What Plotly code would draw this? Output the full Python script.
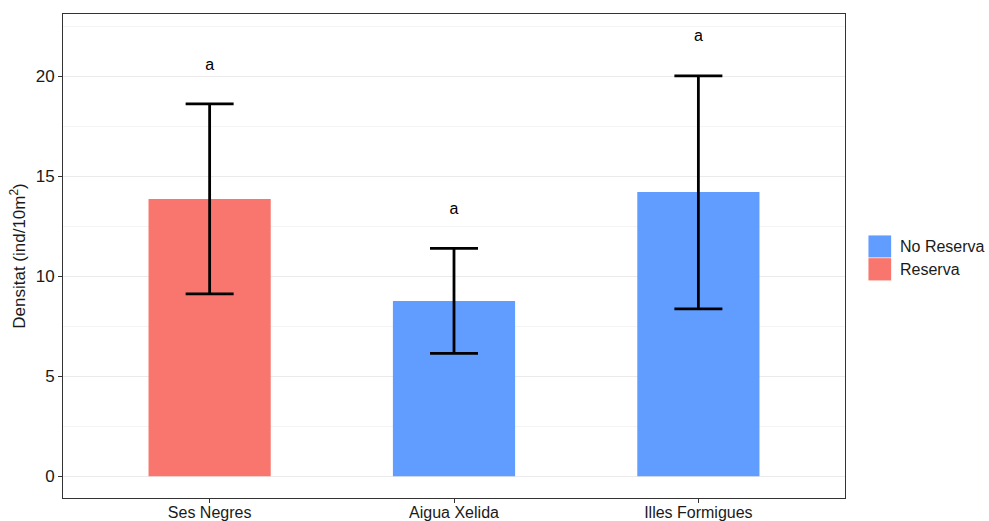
import plotly.graph_objects as go

categories = ["Ses Negres", "Aigua Xelida", "Illes Formigues"]
groups = ["Reserva", "No Reserva", "No Reserva"]
means = [13.87, 8.77, 14.22]
upper = [18.63, 11.40, 20.03]
lower = [9.13, 6.15, 8.38]
letters = ["a", "a", "a"]
letter_y = [20.5, 13.33, 21.97]
legend_order = ["No Reserva", "Reserva"]
colors = {"No Reserva": "#619CFF", "Reserva": "#F8766D"}

FONT = "Liberation Sans, Arial, sans-serif"
TXT = "#1a1a1a"

fig = go.Figure()
for g in legend_order:
    idx = [i for i, gg in enumerate(groups) if gg == g]
    fig.add_trace(go.Bar(
        x=[categories[i] for i in idx],
        y=[means[i] for i in idx],
        name=g,
        marker=dict(color=colors[g], line=dict(width=0)),
        width=0.5,
        showlegend=False,
        error_y=dict(
            type="data", symmetric=False,
            array=[upper[i] - means[i] for i in idx],
            arrayminus=[means[i] - lower[i] for i in idx],
            color="black", thickness=2.8, width=24,
        ),
    ))

fig.add_trace(go.Scatter(
    x=categories, y=letter_y, text=letters, mode="text",
    textfont=dict(size=16, color="black", family=FONT),
    showlegend=False, hoverinfo="skip",
))

# custom legend (ggplot-style square keys)
key_y = [(0.5425, 0.497), (0.4955, 0.4495)]
shapes = []
annotations = []
for (y1, y0), g in zip(key_y, legend_order):
    shapes.append(dict(type="rect", xref="paper", yref="paper",
                       x0=1.030, x1=1.059, y0=y0, y1=y1,
                       fillcolor=colors[g], line=dict(width=0)))
    annotations.append(dict(xref="paper", yref="paper", x=1.068, y=(y0 + y1) / 2,
                            text=g, showarrow=False, xanchor="left", yanchor="middle",
                            font=dict(size=16, color=TXT, family=FONT)))

fig.update_layout(
    width=989, height=521,
    margin=dict(l=63, r=143.5, t=13.5, b=23.3),
    plot_bgcolor="white", paper_bgcolor="white",
    barmode="overlay",
    showlegend=False,
    shapes=shapes, annotations=annotations,
    font=dict(family=FONT, size=16, color=TXT),
    xaxis=dict(
        categoryorder="array", categoryarray=categories,
        range=[-0.6, 2.6], automargin=False,
        showgrid=False, showline=True, mirror=True, linecolor="#333333", linewidth=1,
        ticks="outside", ticklen=4, tickcolor="#333333",
        tickfont=dict(size=16, color=TXT),
        ticklabelstandoff=-4,
    ),
    yaxis=dict(
        range=[-1.085, 23.125], automargin=False,
        tickvals=[0, 5, 10, 15, 20],
        showgrid=True, gridcolor="#EBEBEB", gridwidth=1.2,
        minor=dict(showgrid=True, tick0=2.5, dtick=5, gridcolor="#F4F4F4", gridwidth=1),
        zeroline=False,
        showline=True, mirror=True, linecolor="#333333", linewidth=1,
        ticks="outside", ticklen=4, tickcolor="#333333",
        tickfont=dict(size=17, color=TXT),
        title=dict(text="Densitat (ind/10m<sup>2</sup>)", font=dict(size=17, color=TXT), standoff=5),
    ),
)

fig.write_html("out.html")
